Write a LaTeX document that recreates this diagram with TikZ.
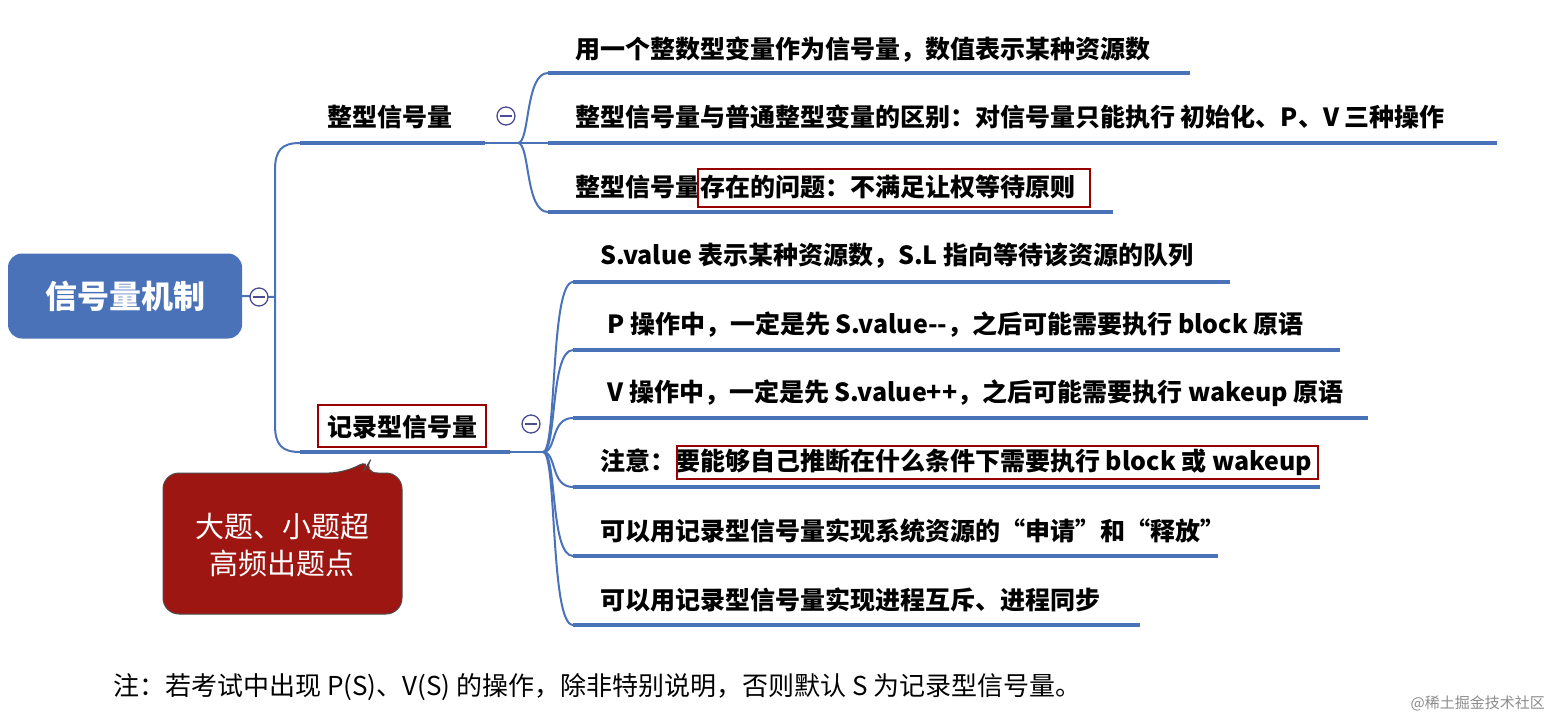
\documentclass[tikz,border=0pt]{standalone}
\usepackage{fontspec}
\setmainfont{Noto Sans CJK SC}
\begin{document}
\begin{tikzpicture}[x=1pt,y=-1pt,
  br/.style={line width=3.5pt},
  brl/.style={line width=2pt},
  txt/.style={anchor=west, inner sep=0pt, font=\fontsize{25}{28}\selectfont\bfseries},
  mn/.style={circle, draw=blue!40!black!70, line width=1.3pt, fill=white, minimum size=18pt, inner sep=0pt},
  hl/.style={draw=red!60!black, line width=1.5pt, inner sep=0pt}]
\definecolor{bl}{HTML}{4A72B8}
\definecolor{dr}{HTML}{9E1612}
\useasboundingbox (0,0) rectangle (1552,720);
\fill[white] (0,0) rectangle (1552,720);
% root
\node[fill=bl, rounded corners=14pt, minimum width=234pt, minimum height=85pt, text=white, font=\fontsize{32}{36}\selectfont\bfseries] (root) at (125,296) {信号量机制};
\coordinate (rj) at (275,297);
\coordinate (a0) at (300,143);
\coordinate (b0) at (300,452);
\draw[brl, draw=bl] (root.east) -- (rj);
\draw[brl, draw=bl] (rj) -- (275,170) .. controls (275,150) and (282,143) .. (a0);
\draw[brl, draw=bl] (rj) -- (275,425) .. controls (275,445) and (282,452) .. (b0);
\node[mn] (m0) at (259,297) {};
\draw[line width=1.3pt, draw=blue!40!black!70] (253,297) -- (265,297);
% branch A
\coordinate (a1) at (485,143);
\draw[br, draw=bl] (a0) -- (a1);
\node[txt] (al) at (327,117) {整型信号量};
\coordinate (aj) at (518,143);
\draw[brl, draw=bl] (a1) -- (aj);
\foreach \y/\e/\n in {73/1190/1,143/1497/2,212/1113/3}{
  \coordinate (ac\n) at (548,\y);
  \draw[brl, draw=bl] (aj) .. controls (530,143) and (525,\y) .. (ac\n);
  \draw[br, draw=bl] (ac\n) -- (\e,\y);
}
\node[mn] (m1) at (506,116) {};
\draw[line width=1.3pt, draw=blue!40!black!70] (500,116) -- (512,116);
\node[txt] (t1) at (575,50) {用一个整数型变量作为信号量，数值表示某种资源数};
\node[txt] (t2) at (575,117) {整型信号量与普通整型变量的区别：对信号量只能执行 初始化、P、V 三种操作};
\node[txt] (t3) at (575,187) {整型信号量存在的问题：不满足让权等待原则};
\draw[hl] (698,169) rectangle (1090,207);
% branch B
\coordinate (b1) at (510,452);
\draw[br, draw=bl] (b0) -- (b1);
\node[txt] (bl) at (327,427) {记录型信号量};
\draw[hl] (318,405) rectangle (486,447);
\coordinate (bj) at (543,452);
\draw[brl, draw=bl] (b1) -- (bj);
\foreach \y/\e/\n in {282/1230/1,350/1340/2,418/1368/3,487/1320/4,556/1218/5,625/1140/6}{
  \coordinate (bc\n) at (573,\y);
  \draw[brl, draw=bl] (bj) .. controls (557,452) and (550,\y) .. (bc\n);
  \draw[br, draw=bl] (bc\n) -- (\e,\y);
}
\node[mn] (m2) at (531,424) {};
\draw[line width=1.3pt, draw=blue!40!black!70] (525,424) -- (537,424);
\node[txt] (u1) at (600,256) {S.value 表示某种资源数，S.L 指向等待该资源的队列};
\node[txt] (u2) at (607,325) {P 操作中，一定是先 S.value{-}{-}，之后可能需要执行 block 原语};
\node[txt] (u3) at (607,393) {V 操作中，一定是先 S.value++，之后可能需要执行 wakeup 原语};
\node[txt] (u4) at (600,462) {注意：要能够自己推断在什么条件下需要执行 block 或 wakeup};
\draw[hl] (677,446) rectangle (1318,479);
\node[txt] (u5) at (600,531) {可以用记录型信号量实现系统资源的“申请”和“释放”};
\node[txt] (u6) at (600,600) {可以用记录型信号量实现进程互斥、进程同步};
% callout
\fill[dr, draw=black!70, line width=1pt, rounded corners=16pt] (163,473) -- (345,473) -- (372,458) -- (362,473) -- (402,473) -- (402,614) -- (163,614) -- cycle;
\node[text=white, align=center, font=\fontsize{29}{37}\selectfont] (co) at (282,545) {大题、小题超\\高频出题点};
% note
\node[anchor=west, inner sep=0pt, font=\fontsize{26}{30}\selectfont] (note) at (113,687) {注：若考试中出现 P(S)、V(S) 的操作，除非特别说明，否则默认 S 为记录型信号量。};
\node[anchor=east, inner sep=0pt, text=black!45, font=\fontsize{15}{18}\selectfont] (wm) at (1545,703) {@稀土掘金技术社区};
\end{tikzpicture}
\end{document}
